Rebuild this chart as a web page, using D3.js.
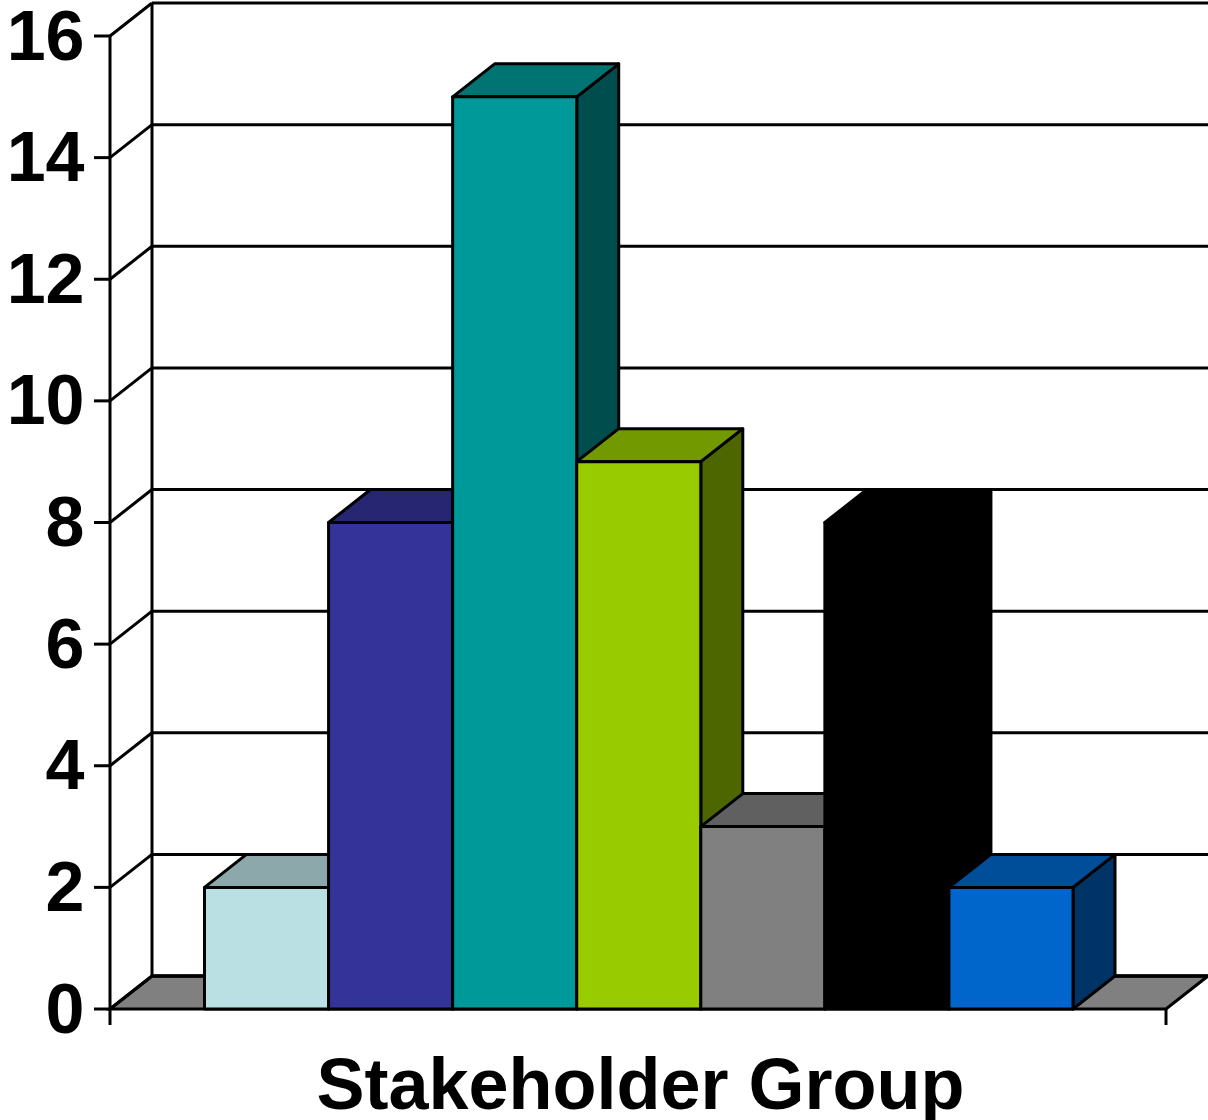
<!DOCTYPE html>
<html><head><meta charset="utf-8">
<script src="https://cdnjs.cloudflare.com/ajax/libs/d3/7.8.5/d3.min.js"></script>
<style>html,body{margin:0;padding:0;background:#fff;overflow:hidden}svg{display:block}</style>
</head><body><svg id="c" width="1208" height="1120"></svg>
<script>
const categories = ["A","B","C","D","E","F","G"];
const values = [2, 8, 15, 9, 3, 8, 2];
const frontColors = ["#BBE0E3","#333399","#009999","#99CC00","#808080","#000000","#0066CC"];
const yTicks = [0,2,4,6,8,10,12,14,16];
const axisTitle = "Stakeholder Group";

const depthX = 42, depthY = -33, sw = 3;
const y = d3.scaleLinear().domain([0,16]).range([1009,36]);
const x = d3.scaleBand().domain(categories).range([204.5,1073]);
const xLeft = 110, xRight = 1166;
const svg = d3.select("#c");
const shade = (c,k)=>{const r=d3.rgb(c);return d3.rgb(r.r*k,r.g*k,r.b*k).formatHex();};
const poly = pts => pts.map(p=>p.join(",")).join(" ");
const line = (x1,y1,x2,y2,w=sw)=>svg.append("line").attr("x1",x1).attr("y1",y1).attr("x2",x2).attr("y2",y2).attr("stroke","#000").attr("stroke-width",w);

// floor
svg.append("polygon").attr("points",poly([[xLeft,y(0)],[xRight,y(0)],[xRight+depthX,y(0)+depthY],[xLeft+depthX,y(0)+depthY]]))
  .attr("fill","#808080").attr("stroke","#000").attr("stroke-width",sw);

// gridlines and walls
yTicks.forEach(t=>{
  const gy=y(t);
  line(xLeft+depthX,gy+depthY,1208,gy+depthY, t===0?3.6:sw);
  line(xLeft,gy,xLeft+depthX,gy+depthY);
  line(xLeft-16,gy,xLeft,gy);
});
line(xLeft,y(16),xLeft,y(0)+16);
line(xLeft+depthX,y(16)+depthY,xLeft+depthX,y(0)+depthY);
line(xRight,y(0),xRight,y(0)+16);

// bars, left to right
const bars = svg.append("g").selectAll("g").data(categories).join("g");
const attrs = g=>g.attr("stroke","#000").attr("stroke-width",sw).attr("stroke-linejoin","round");
bars.each(function(c,i){
  const g=d3.select(this), x0=x(c), x1=x0+x.bandwidth(), yt=y(values[i]), yb=y(0), col=frontColors[i];
  g.append("polygon").attr("points",poly([[x1,yb],[x1+depthX,yb+depthY],[x1+depthX,yt+depthY],[x1,yt]])).attr("fill",shade(col,.5)).call(attrs);
  g.append("polygon").attr("points",poly([[x0,yt],[x0+depthX,yt+depthY],[x1+depthX,yt+depthY],[x1,yt]])).attr("fill",shade(col,.75)).call(attrs);
  g.append("rect").attr("x",x0).attr("y",yt).attr("width",x1-x0).attr("height",yb-yt).attr("fill",col).call(attrs);
});

// labels
const font="'Liberation Sans',Arial,sans-serif";
svg.append("g").selectAll("text").data(yTicks).join("text")
  .attr("x",84.5).attr("y",d=>y(d)+23.5).attr("text-anchor","end")
  .attr("font-family",font).attr("font-weight","bold").attr("font-size",70).attr("fill","#000").text(d=>d);
svg.append("text").attr("x",640.5).attr("y",1109).attr("text-anchor","middle")
  .attr("font-family",font).attr("font-weight","bold").attr("font-size",72).attr("fill","#000").text(axisTitle);
</script></body></html>
